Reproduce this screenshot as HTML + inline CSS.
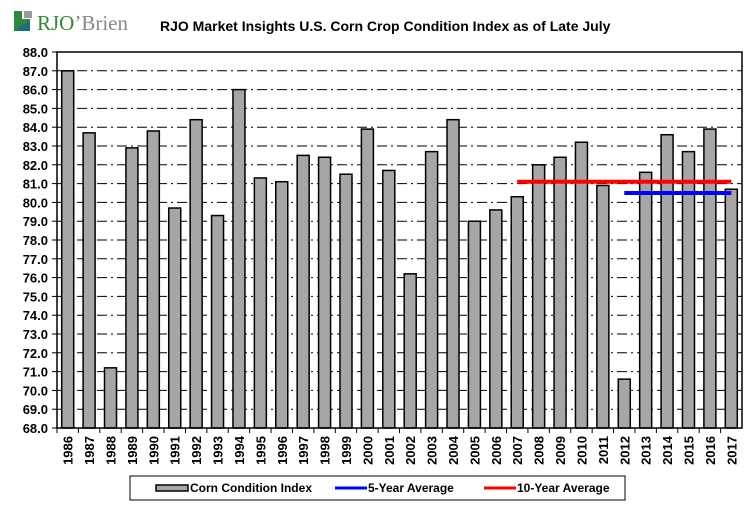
<!DOCTYPE html>
<html><head><meta charset="utf-8"><style>
body{margin:0;background:#fff;font-family:"Liberation Sans",Arial,sans-serif}
svg text{font-family:"Liberation Sans",Arial,sans-serif;font-weight:bold}
</style></head><body>
<svg id="c" width="756" height="516">
<g>
<rect x="14" y="11" width="16" height="20" fill="#2e8a3a"/>
<rect x="22" y="11" width="8" height="8" fill="#fff"/>
<rect x="24" y="11" width="8" height="7" fill="#999"/>
<polygon points="14,31 30,31 30,20" fill="#1f6e78"/>
<text x="37" y="30" font-size="21" style="font-family:'Liberation Serif',serif;font-weight:normal"><tspan fill="#2e8a3a">RJO</tspan><tspan fill="#888">’Brien</tspan></text>
</g>
<text x="160" y="31" font-size="14">RJO Market Insights U.S. Corn Crop Condition Index as of Late July</text>
<g id="grid"></g><g id="bars"></g><g id="lines"></g><g id="axes"></g>
<g>
<rect x="130" y="476" width="495" height="24" fill="#fff" stroke="#000"/>
<g><rect x="156" y="485" width="32" height="6" fill="#a6a6a6" stroke="#000" stroke-width="1.5"/><text x="190" y="492" font-size="12">Corn Condition Index</text></g>
<g><line x1="335" y1="488" x2="367" y2="488" stroke="#0000ff" stroke-width="3"/><text x="368" y="492" font-size="12">5-Year Average</text></g>
<g><line x1="484" y1="488" x2="516" y2="488" stroke="#ff0000" stroke-width="3"/><text x="517" y="492" font-size="12">10-Year Average</text></g>
</g>
</svg>
<script>
const years=[1986,1987,1988,1989,1990,1991,1992,1993,1994,1995,1996,1997,1998,1999,2000,2001,2002,2003,2004,2005,2006,2007,2008,2009,2010,2011,2012,2013,2014,2015,2016,2017];
const values=[87.0,83.7,71.2,82.9,83.8,79.7,84.4,79.3,86.0,81.3,81.1,82.5,82.4,81.5,83.9,81.7,76.2,82.7,84.4,79.0,79.6,80.3,82.0,82.4,83.2,80.9,70.6,81.6,83.6,82.7,83.9,80.7];
const avg5=80.5, avg5Start=2012, avg5End=2017;
const avg10=81.1, avg10Start=2007, avg10End=2017;
const yTicks=[68,69,70,71,72,73,74,75,76,77,78,79,80,81,82,83,84,85,86,87,88];
const L=57,R=742,T=52,B=428,yMin=68,yMax=88;
const n=years.length,bw=(R-L)/n;
const y=v=>B-(v-yMin)/(yMax-yMin)*(B-T);
const xc=i=>L+(i+0.5)*bw;
const NS="http://www.w3.org/2000/svg";
function mk(p,tag,at){const e=document.createElementNS(NS,tag);for(const k in at)e.setAttribute(k,at[k]);document.getElementById(p).appendChild(e);return e;}
yTicks.forEach(t=>{
 if(t>yMin&&t<yMax){const g=mk('grid','line',{x1:L,x2:R,y1:y(t),y2:y(t),stroke:'#000','stroke-dasharray':'10,4,2,4'});
 
 }
 mk('axes','line',{x1:L-5,x2:L,y1:y(t),y2:y(t),stroke:'#000'});
 const tx=mk('axes','text',{x:L-9,y:y(t)+5,'font-size':13,'text-anchor':'end'});tx.textContent=t.toFixed(1);
 
 
});
mk('axes','rect',{x:L,y:T,width:R-L,height:B-T,fill:'none',stroke:'#000','stroke-width':1.5});
years.forEach((yr,i)=>{
 const b=mk('bars','rect',{x:xc(i)-6,y:y(values[i]),width:12,height:B-y(values[i]),fill:'#a6a6a6',stroke:'#000','stroke-width':1.5});
 
 
 mk('axes','line',{x1:L+i*bw,x2:L+i*bw,y1:B,y2:B+5,stroke:'#000'});
 const tx=mk('axes','text',{x:0,y:0,'font-size':13,'text-anchor':'end',transform:`translate(${xc(i)+5},436) rotate(-90)`});tx.textContent=yr;
 
 
});
const l10=mk('lines','line',{x1:xc(years.indexOf(avg10Start)),x2:xc(years.indexOf(avg10End)),y1:y(avg10),y2:y(avg10),stroke:'#ff0000','stroke-width':4});


const l5=mk('lines','line',{x1:xc(years.indexOf(avg5Start)),x2:xc(years.indexOf(avg5End)),y1:y(avg5),y2:y(avg5),stroke:'#0000ff','stroke-width':4});


</script>
</body></html>
